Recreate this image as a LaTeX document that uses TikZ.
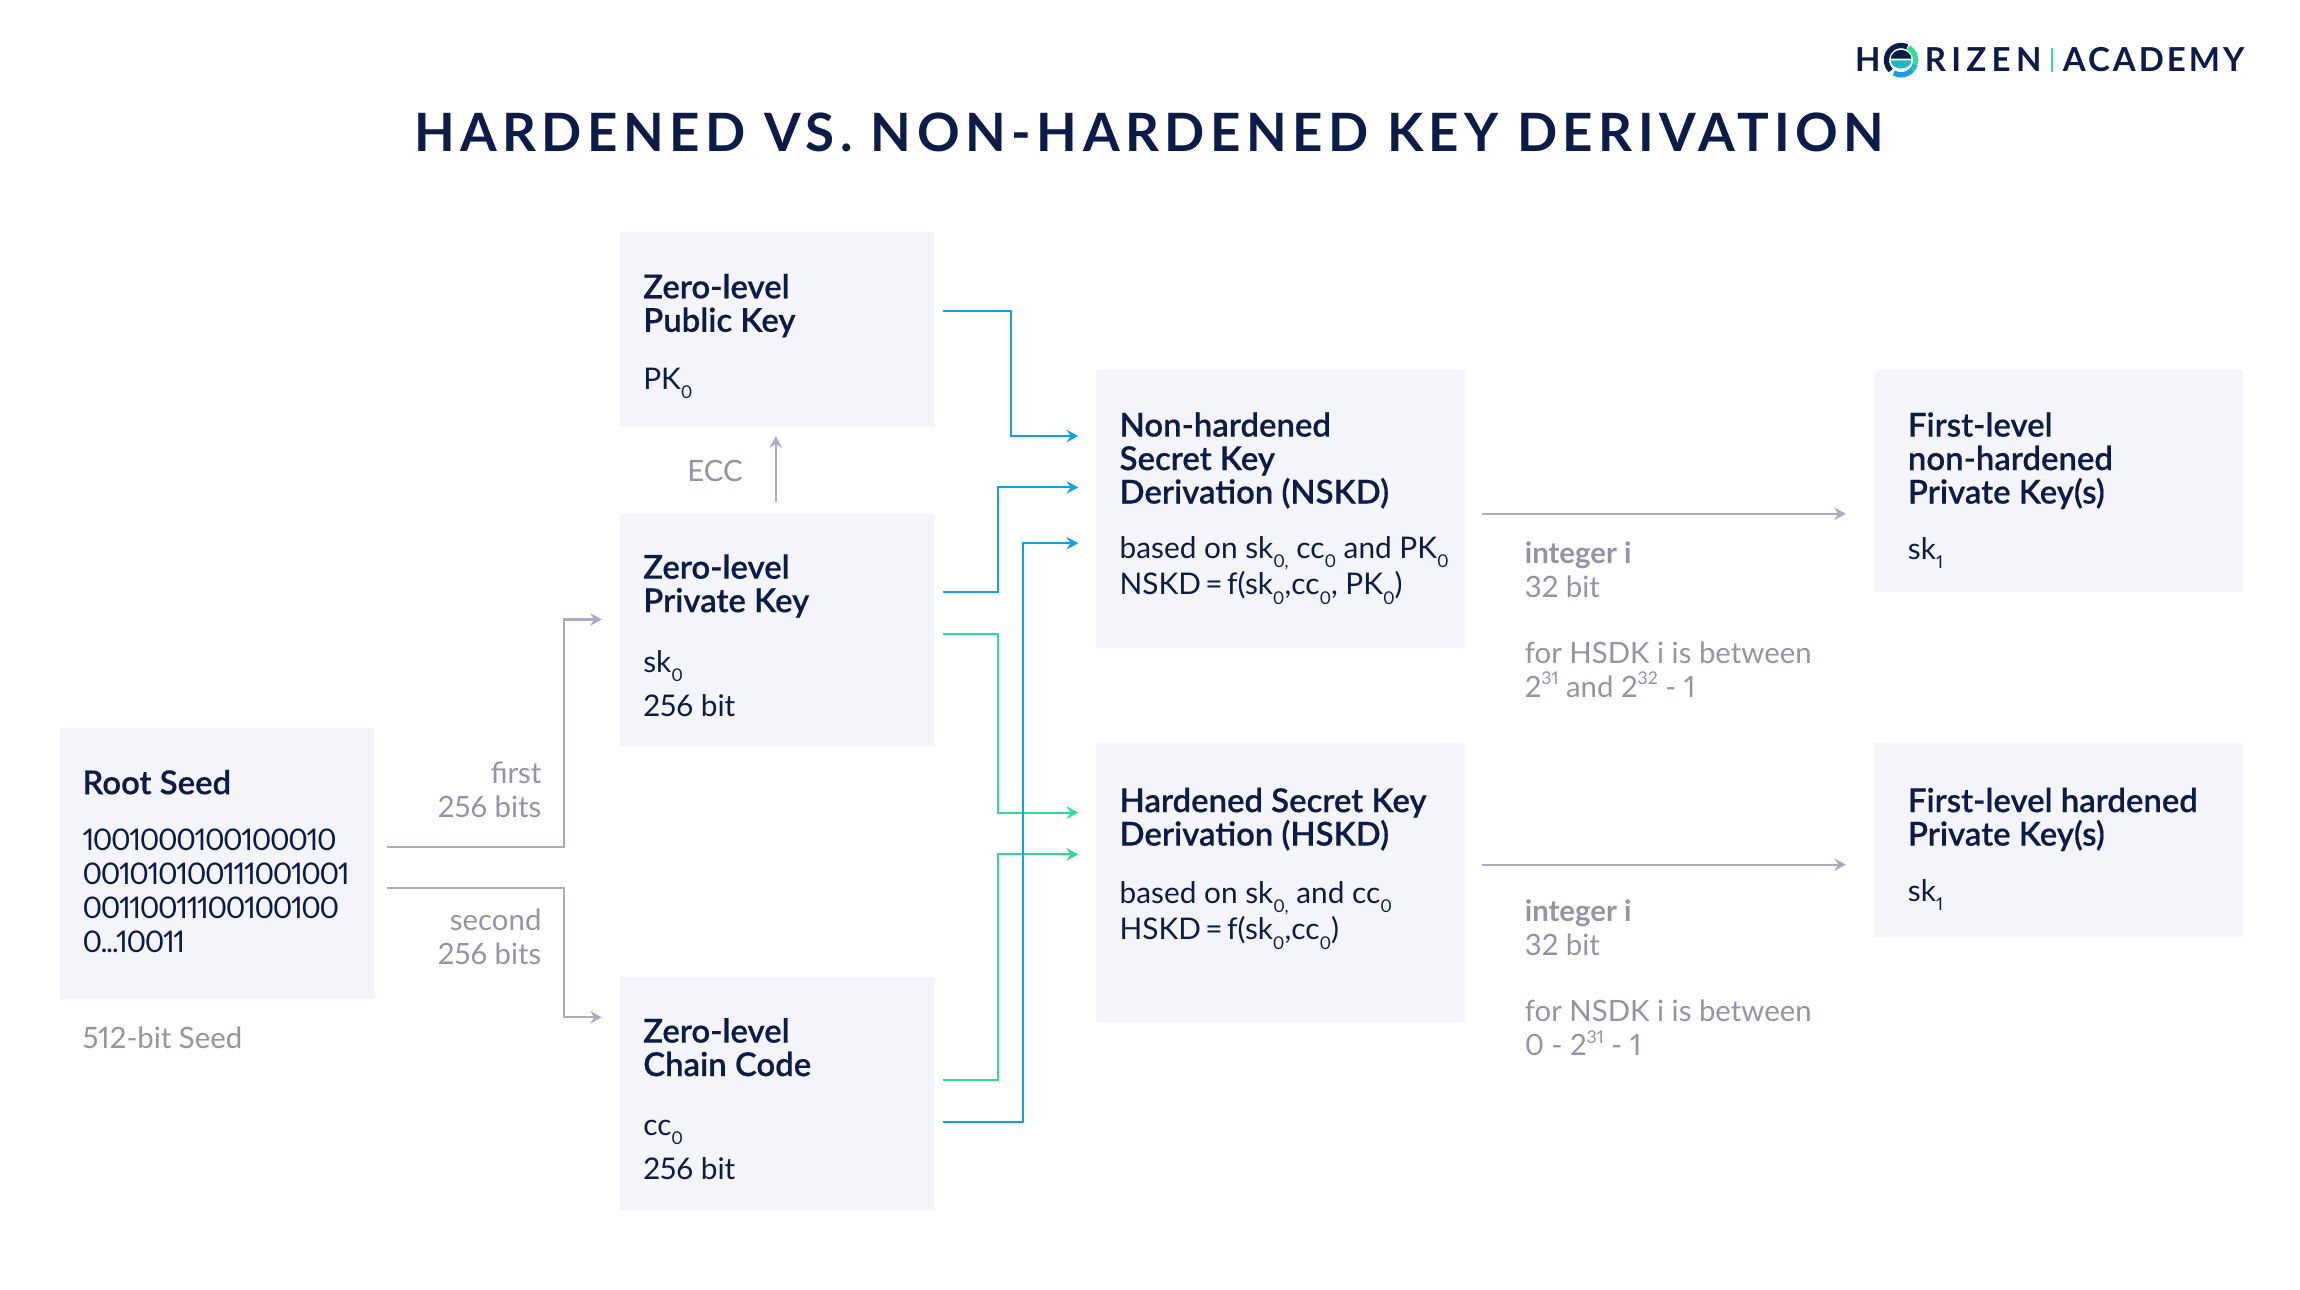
\documentclass[tikz,border=0pt]{standalone}
\usepackage{fontspec}
\setmainfont[Numbers={Proportional,Lining},BoldFont={Lato Bold}]{Lato}
\newfontfamily\fullbold[Numbers={Proportional,Lining}]{Lato Bold}
\newfontfamily\semibold[Numbers={Proportional,Lining},FakeBold=0.35]{Lato Semibold}
\usetikzlibrary{arrows.meta}
\definecolor{navy}{HTML}{0C1C4A}
\definecolor{greytext}{HTML}{9494A8}
\definecolor{boxfill}{HTML}{F4F5FA}
\definecolor{linegrey}{HTML}{ABABC3}
\definecolor{blueline}{HTML}{14A0E8}
\definecolor{greenline}{HTML}{2FDC96}
\newcommand{\zs}[1]{\raisebox{-0.32em}{\fontsize{12}{12}\selectfont #1}}
\newcommand{\zsup}[1]{\raisebox{0.42em}{\fontsize{12}{12}\selectfont #1}}
\newcommand{\headf}{\fontsize{22.4}{22.8}\selectfont\semibold\color{navy}}
\newcommand{\bodyf}{\fontsize{20.3}{23}\selectfont\color{navy}}
\newcommand{\grayf}{\fontsize{20}{23}\selectfont\color{greytext}}
\newcommand{\logof}{\fontsize{22.5}{22}\selectfont\fullbold\color{navy}}
\newcommand{\eqs}{\hspace{3pt}=\hspace{3pt}}
\tikzset{
 panel/.style={fill=boxfill,draw=none,inner sep=0pt,anchor=north west},
 head/.style={anchor=base west,inner sep=0pt,align=left,font=\headf},
 body/.style={anchor=base west,inner sep=0pt,align=left,font=\bodyf},
 note/.style={anchor=base west,inner sep=0pt,align=left,font=\grayf},
 noter/.style={anchor=base east,inner sep=0pt,align=right,font=\grayf},
 conn/.style={line width=1.4pt,-{Stealth[length=8pt,width=8.5pt,inset=2.8pt]}},
 greyc/.style={conn,draw=linegrey},
 bluec/.style={conn,draw=blueline},
 greenc/.style={conn,draw=greenline},
}
\begin{document}
\begin{tikzpicture}[x=1pt,y=-1pt]
\useasboundingbox (0,0) rectangle (1566.76,878.07);
\fill[white] (0,0) rectangle (1566.76,878.07);
\node[panel,minimum width=214pt,minimum height=184pt] (root) at (41,496) {};
\node[panel,minimum width=215pt,minimum height=133pt] (pk) at (422,158) {};
\node[panel,minimum width=215pt,minimum height=158pt] (sk) at (422,350) {};
\node[panel,minimum width=215pt,minimum height=159pt] (cc) at (422,665) {};
\node[panel,minimum width=251.5pt,minimum height=189pt] (nskd) at (746.5,252) {};
\node[panel,minimum width=251.5pt,minimum height=190pt] (hskd) at (746.5,506) {};
\node[panel,minimum width=251.5pt,minimum height=151pt] (fn) at (1276.5,252) {};
\node[panel,minimum width=251.5pt,minimum height=132pt] (fh) at (1276.5,506) {};

% title
\node[anchor=base,inner sep=0pt,font={\fontsize{36}{36}\selectfont\addfontfeature{LetterSpace=10.4}\bfseries\color{navy}}] (title) at (782.7,103) {HARDENED VS. NON-HARDENED KEY DERIVATION};

% logo
\node[anchor=base west,inner sep=0pt,font={\logof\addfontfeature{LetterSpace=16}}] (logoh) at (1263.5,48.6) {H};
\node[anchor=base west,inner sep=0pt,font={\logof\addfontfeature{LetterSpace=16}}] (logor) at (1311,48.6) {RIZEN};
\node[anchor=base west,inner sep=0pt,font={\logof\addfontfeature{LetterSpace=9}}] (logoa) at (1405,48.6) {ACADEMY};
\fill[greenline] (1397.2,33) rectangle (1398.2,49);
\begin{scope}[shift={(1295,41)},x=1pt,y=1pt]
\draw[navy,line width=3.6pt] (65:10) arc (65:225:10);
\draw[blueline,line width=3.6pt] (240:10) arc (240:320:10);
\draw[blueline!50!greenline,line width=3.6pt] (320:10) arc (320:345:10);
\draw[greenline,line width=3.6pt] (345:10) arc (345:420:10);
\fill[navy] (-7,1) arc (180:0:7 and 6) -- cycle;
\fill[blueline!60!greenline] (-7,-0.2) -- (7,-0.2) arc (0:-180:7 and 5.5) -- cycle;
\end{scope}

% root
\node[head] (rootT) at (56,541) {Root Seed};
\node[body,font={\bodyf\addfontfeature{LetterSpace=-4.6}}] (rootB) at (56,648.5) {1001000100100010\\001010100111001001\\00110011100100100\\0...10011};
\node[note] (rootN) at (56,714) {512-bit Seed};
\node[noter] (l1) at (369,557) {first\\256 bits};
\node[noter] (l2) at (369,657) {second\\256 bits};

% pk
\node[head] (pkT) at (438,226) {Zero-level\\Public Key};
\node[body] (pkB) at (438,265) {PK\zs{0}};
\node[note] (ecc) at (468,328) {ECC};
% sk
\node[head] (skT) at (438,417) {Zero-level\\Private Key};
\node[body] (skB) at (438,488) {sk\zs{0}\\[7pt]256 bit};
% cc
\node[head] (ccT) at (438,733) {Zero-level\\Chain Code};
\node[body] (ccB) at (438,803.3) {cc\zs{0}\\[7pt]256 bit};
% nskd
\node[head] (nT) at (762.5,343) {Non-hardened\\Secret Key\\Derivation (NSKD)};
\node[body] (nB) at (762.5,405) {based on sk\zs{0,} cc\zs{0} and PK\zs{0}\\NSKD\eqs f(sk\zs{0},cc\zs{0}, PK\zs{0})};
% hskd
\node[head] (hT) at (762.5,576) {Hardened Secret Key\\Derivation (HSKD)};
\node[body] (hB) at (762.5,640) {based on sk\zs{0,} and cc\zs{0}\\HSKD\eqs f(sk\zs{0},cc\zs{0})};
% right
\node[head] (fnT) at (1299.5,343) {First-level\\non-hardened\\Private Key(s)};
\node[body] (fnB) at (1299.5,381) {sk\zs{1}};
\node[head] (fhT) at (1299.5,576) {First-level hardened\\Private Key(s)};
\node[body] (fhB) at (1299.5,614) {sk\zs{1}};
% middle notes
\node[note] (m1) at (1038.5,475) {\textbf{integer i}\\32 bit\\[22pt]for HSDK i is between\\2\zsup{31} and 2\zsup{32} - 1};
\node[note] (m2) at (1038.5,719) {\textbf{integer i}\\32 bit\\[22pt]for NSDK i is between\\0 - 2\zsup{31} - 1};

% connectors
\draw[bluec] ([shift={(5,54)}]pk.north east) -| (689,297) -- ([shift={(-12,45)}]nskd.north west);
\draw[bluec] ([shift={(5,53)}]sk.north east) -| (680,332) -- ([shift={(-12,80)}]nskd.north west);
\draw[greenc] ([shift={(5,82)}]sk.north east) -| (680,553.5) -- ([shift={(-12,47.5)}]hskd.north west);
\draw[greenc] ([shift={(5,71)}]cc.north east) -| (680,582) -- ([shift={(-12,76)}]hskd.north west);
\draw[bluec] ([shift={(5,99.5)}]cc.north east) -| (697,370) -- ([shift={(-12,118)}]nskd.north west);
\draw[greyc] ([shift={(106.5,-8)}]sk.north west) -- ([shift={(106.5,-53)}]sk.north west);
\draw[greyc] ([shift={(8,81)}]root.north east) -| (384,422) -- ([shift={(-12,72)}]sk.north west);
\draw[greyc] ([shift={(8,109)}]root.north east) -| (384,693) -- ([shift={(-12,28)}]cc.north west);
\draw[greyc] ([shift={(11,98)}]nskd.north east) -- ([shift={(-19,98)}]fn.north west);
\draw[greyc] ([shift={(11,83)}]hskd.north east) -- ([shift={(-19,83)}]fh.north west);
\end{tikzpicture}
\end{document}
